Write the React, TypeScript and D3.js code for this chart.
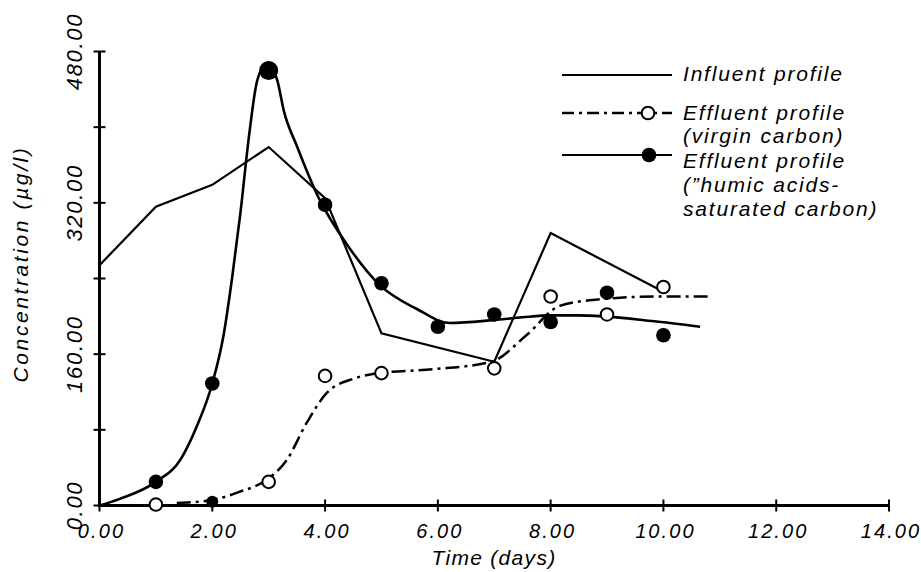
import React from 'react';
import * as d3 from 'd3';

// Influent profile (polyline)
const influentDays = [0, 1, 2, 3, 4, 5, 7, 8, 10];
const influentValues = [254, 316, 339, 379, 325, 182, 152, 288, 226];

// Effluent profile (virgin carbon) – measured points (open circles)
const virginDays = [1, 3, 4, 5, 7, 8, 9, 10];
const virginValues = [1, 25, 137, 140, 145, 221, 202, 231];
// point at day 2 printed as a solid blob on the virgin curve
const virginBlobDays = [2];
const virginBlobValues = [4];

// Effluent profile (humic acids-saturated carbon) – measured points (filled)
const humicDays = [1, 2, 3, 4, 5, 6, 7, 8, 9, 10];
const humicValues = [25, 129, 460, 318, 235, 189, 202, 194, 225, 180];

// Hand-drawn fitted curves
const humicCurveDays = [0, 0.36, 1, 1.43, 1.72, 2, 2.2, 2.35, 2.5, 2.65, 2.8, 2.97, 3.15, 3.27, 3.5, 3.88, 4.4, 4.97, 5.62, 6.21, 6.98, 7.5, 8.0, 8.46, 8.93, 9.8, 10.65];
const humicCurveValues = [0, 7, 25, 48, 83, 129, 180, 240, 310, 390, 450, 467, 450, 417, 380, 326, 275, 233, 208, 193, 196, 199, 201, 201, 200, 195, 189];

const virginCurveDays = [1.37, 1.99, 2.49, 2.96, 3.32, 3.67, 4.03, 4.5, 4.97, 5.91, 6.95, 7.57, 8.16, 8.87, 9.88, 10.79];
const virginCurveValues = [2.6, 5.8, 14.6, 27, 48, 87, 119, 134, 140, 144, 152, 180, 211, 218, 221, 221];

const xTicks = [0, 2, 4, 6, 8, 10, 12, 14];
const yTicks = [0, 80, 160, 240, 320, 400, 480];
const yLabelTicks = [0, 160, 320, 480];

const legendLabels = [
  ['Influent profile'],
  ['Effluent profile', '(virgin carbon)'],
  ['Effluent profile', '(\u201Dhumic acids-', 'saturated carbon)'],
];

const FONT = '"Liberation Sans", Arial, Helvetica, sans-serif';

export default function App() {
  const W = 921;
  const H = 572;
  const x = d3.scaleLinear().domain([0, 14]).range([99.5, 889]);
  const y = d3.scaleLinear().domain([0, 480]).range([505.5, 51.5]);

  const straight = d3
    .line<[number, number]>()
    .x((d) => x(d[0]))
    .y((d) => y(d[1]));
  const smooth = d3
    .line<[number, number]>()
    .x((d) => x(d[0]))
    .y((d) => y(d[1]))
    .curve(d3.curveMonotoneX);

  const influentPath = straight(influentDays.map((d, i) => [d, influentValues[i]]));
  const humicPath = smooth(humicCurveDays.map((d, i) => [d, humicCurveValues[i]]));
  const virginPath = smooth(virginCurveDays.map((d, i) => [d, virginCurveValues[i]]));

  const dashDot = '14 5 3 5';
  const lgX1 = 562;
  const lgX2 = 672;
  const lgText = 683;
  const lgRows = [75, 113, 155];
  const lgBaselines = [[81], [120, 143], [168, 192, 216]];

  return (
    <svg
      width={W}
      height={H}
      viewBox={`0 0 ${W} ${H}`}
      style={{ position: 'absolute', left: 0, top: 0, background: '#fff' }}
    >
      <rect x={0} y={0} width={W} height={H} fill="#fff" />

      {/* Axes */}
      <line x1={x(0)} y1={y(0)} x2={x(14)} y2={y(0)} stroke="#000" strokeWidth={3} />
      <line x1={x(0)} y1={y(0) + 1.5} x2={x(0)} y2={y(480)} stroke="#000" strokeWidth={3} />
      {xTicks.map((t) => (
        <g key={'xt' + t}>
          <line x1={x(t)} x2={x(t)} y1={y(0) - 6} y2={y(0) + 6} stroke="#000" strokeWidth={2} />
          <text
            x={x(t) + 2}
            y={538}
            textAnchor="middle"
            fontFamily={FONT}
            fontStyle="italic"
            fontSize={20}
            letterSpacing={2.1}
            fill="#000"
          >
            {t.toFixed(2)}
          </text>
        </g>
      ))}
      {yTicks.map((t) => (
        <line key={'yt' + t} x1={x(0) - 6} x2={x(0) + 6} y1={y(t)} y2={y(t)} stroke="#000" strokeWidth={2} />
      ))}
      {yLabelTicks.map((t) => (
        <text
          key={'yl' + t}
          transform={`translate(82,${y(t)}) rotate(-90)`}
          textAnchor="middle"
          fontFamily={FONT}
          fontStyle="italic"
          fontSize={22}
          letterSpacing={1.7}
          fill="#000"
        >
          {t.toFixed(2)}
        </text>
      ))}

      {/* Axis titles */}
      <text
        transform="translate(28,264) rotate(-90)"
        textAnchor="middle"
        fontFamily={FONT}
        fontStyle="italic"
        fontSize={21}
        letterSpacing={2.6}
        fill="#000"
      >
        Concentration (µg/l)
      </text>
      <text
        x={494}
        y={565}
        textAnchor="middle"
        fontFamily={FONT}
        fontStyle="italic"
        fontSize={21}
        letterSpacing={1.3}
        fill="#000"
      >
        Time (days)
      </text>

      {/* Series lines */}
      <path d={influentPath || ''} fill="none" stroke="#000" strokeWidth={2.2} strokeLinejoin="miter" />
      <path d={virginPath || ''} fill="none" stroke="#000" strokeWidth={2.5} strokeDasharray={dashDot} />
      <path d={humicPath || ''} fill="none" stroke="#000" strokeWidth={2.6} />

      {/* Markers */}
      {virginDays.map((d, i) => (
        <circle
          key={'v' + i}
          cx={x(d)}
          cy={y(virginValues[i])}
          r={6.3}
          fill="#fff"
          stroke="#000"
          strokeWidth={2}
        />
      ))}
      {virginBlobDays.map((d, i) => (
        <circle key={'vb' + i} cx={x(d)} cy={y(virginBlobValues[i])} r={6} fill="#000" />
      ))}
      {humicDays.map((d, i) => (
        <circle
          key={'h' + i}
          cx={x(d)}
          cy={y(humicValues[i])}
          r={humicValues[i] > 400 ? 9.5 : 7.3}
          fill="#000"
        />
      ))}

      {/* Legend */}
      <line x1={lgX1} x2={lgX2} y1={lgRows[0]} y2={lgRows[0]} stroke="#000" strokeWidth={2.2} />
      <line x1={lgX1} x2={lgX2} y1={lgRows[1]} y2={lgRows[1]} stroke="#000" strokeWidth={2.5} strokeDasharray="12 5 3 5" />
      <circle cx={648} cy={lgRows[1]} r={6.3} fill="#fff" stroke="#000" strokeWidth={2} />
      <line x1={lgX1} x2={lgX2} y1={lgRows[2]} y2={lgRows[2]} stroke="#000" strokeWidth={2.2} />
      <circle cx={649} cy={lgRows[2]} r={7.3} fill="#000" />
      {legendLabels.map((lines, k) =>
        lines.map((s, j) => (
          <text
            key={'lg' + k + '-' + j}
            x={lgText}
            y={lgBaselines[k][j]}
            fontFamily={FONT}
            fontStyle="italic"
            fontSize={21}
            letterSpacing={1.8}
            fill="#000"
          >
            {s}
          </text>
        ))
      )}
    </svg>
  );
}
